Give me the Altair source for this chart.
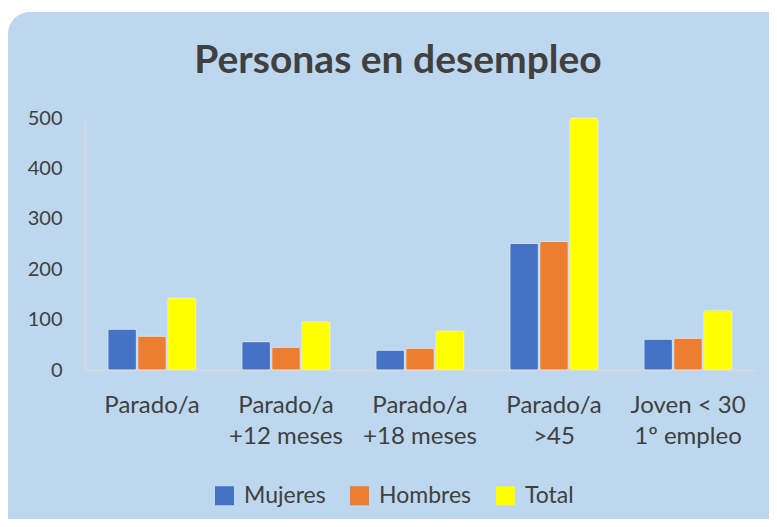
import altair as alt
import pandas as pd

categories = ["Parado/a", "Parado/a\n+12 meses", "Parado/a\n+18 meses", "Parado/a\n>45", "Joven < 30\n1º empleo"]
series = ["Mujeres", "Hombres", "Total"]
mujeres = [81, 56, 39, 251, 61]
hombres = [67, 45, 43, 255, 63]
total = [143, 96, 78, 500, 118]
colors = ["#4472C4", "#ED7D31", "#FFFF00"]
y_ticks = [0, 100, 200, 300, 400, 500]
title_text = ["Personas en desempleo"]

rows = []
for i, c in enumerate(categories):
    for s, vals in zip(series, [mujeres, hombres, total]):
        rows.append({"cat": c, "serie": s, "valor": vals[i]})
df = pd.DataFrame(rows)

FONT = "Lato"
TXT = "#404040"
W, H = 670, 252
PAD = {"left": 77, "top": 110, "right": 14, "bottom": 149}

card = alt.Chart(pd.DataFrame({"k": [0]})).mark_rect(
    color="#BDD7EE", cornerRadius=22
).encode(
    x=alt.value(-77), x2=alt.value(W + 60),
    y=alt.value(-106), y2=alt.value(H + 200),
)

title = alt.Chart(pd.DataFrame({"t": title_text})).mark_text(
    font=FONT, fontSize=39, fontWeight="bold", color=TXT,
    align="center", baseline="alphabetic"
).encode(
    text="t:N", x=alt.value(313), y=alt.value(-45),
)

bars = alt.Chart(df).mark_bar(
    cornerRadius=2, stroke="white", strokeOpacity=0.35, strokeWidth=1
).encode(
    x=alt.X("cat:N", sort=categories, title=None,
            scale=alt.Scale(paddingInner=0.3433, paddingOuter=0.1716),
            axis=alt.Axis(labelExpr="split(datum.label, '\\n')", labelAngle=0,
                          labelFont=FONT, labelFontSize=24, labelColor=TXT,
                          labelLineHeight=31, labelPadding=23, ticks=False,
                          domainColor="#D9D9D9", domainWidth=1.5, zindex=1)),
    xOffset=alt.XOffset("serie:N", sort=series, scale=alt.Scale(paddingInner=0.05)),
    y=alt.Y("valor:Q", title=None,
            scale=alt.Scale(domain=[0, 500], nice=False),
            axis=alt.Axis(values=y_ticks, grid=False, ticks=False,
                          labelFont=FONT, labelFontSize=20, labelColor=TXT,
                          labelPadding=23, domainColor="#D9D9D9", domainWidth=1.5,
                          zindex=1)),
    color=alt.Color("serie:N", sort=series,
                    scale=alt.Scale(domain=series, range=colors),
                    legend=alt.Legend(title=None, orient="none", direction="horizontal",
                                      legendX=128, legendY=366,
                                      symbolType="square", symbolSize=361,
                                      symbolStrokeWidth=0, labelFont=FONT,
                                      labelFontSize=23, labelColor=TXT,
                                      labelOffset=8, columnPadding=22, padding=0)),
)

chart = alt.layer(card, title, bars).properties(
    width=W, height=H,
    autosize=alt.AutoSizeParams(type="none"),
    padding=PAD,
).configure(background="white").configure_view(stroke=None)

chart.save("out.html", embed_options={"renderer": "svg", "actions": False})
